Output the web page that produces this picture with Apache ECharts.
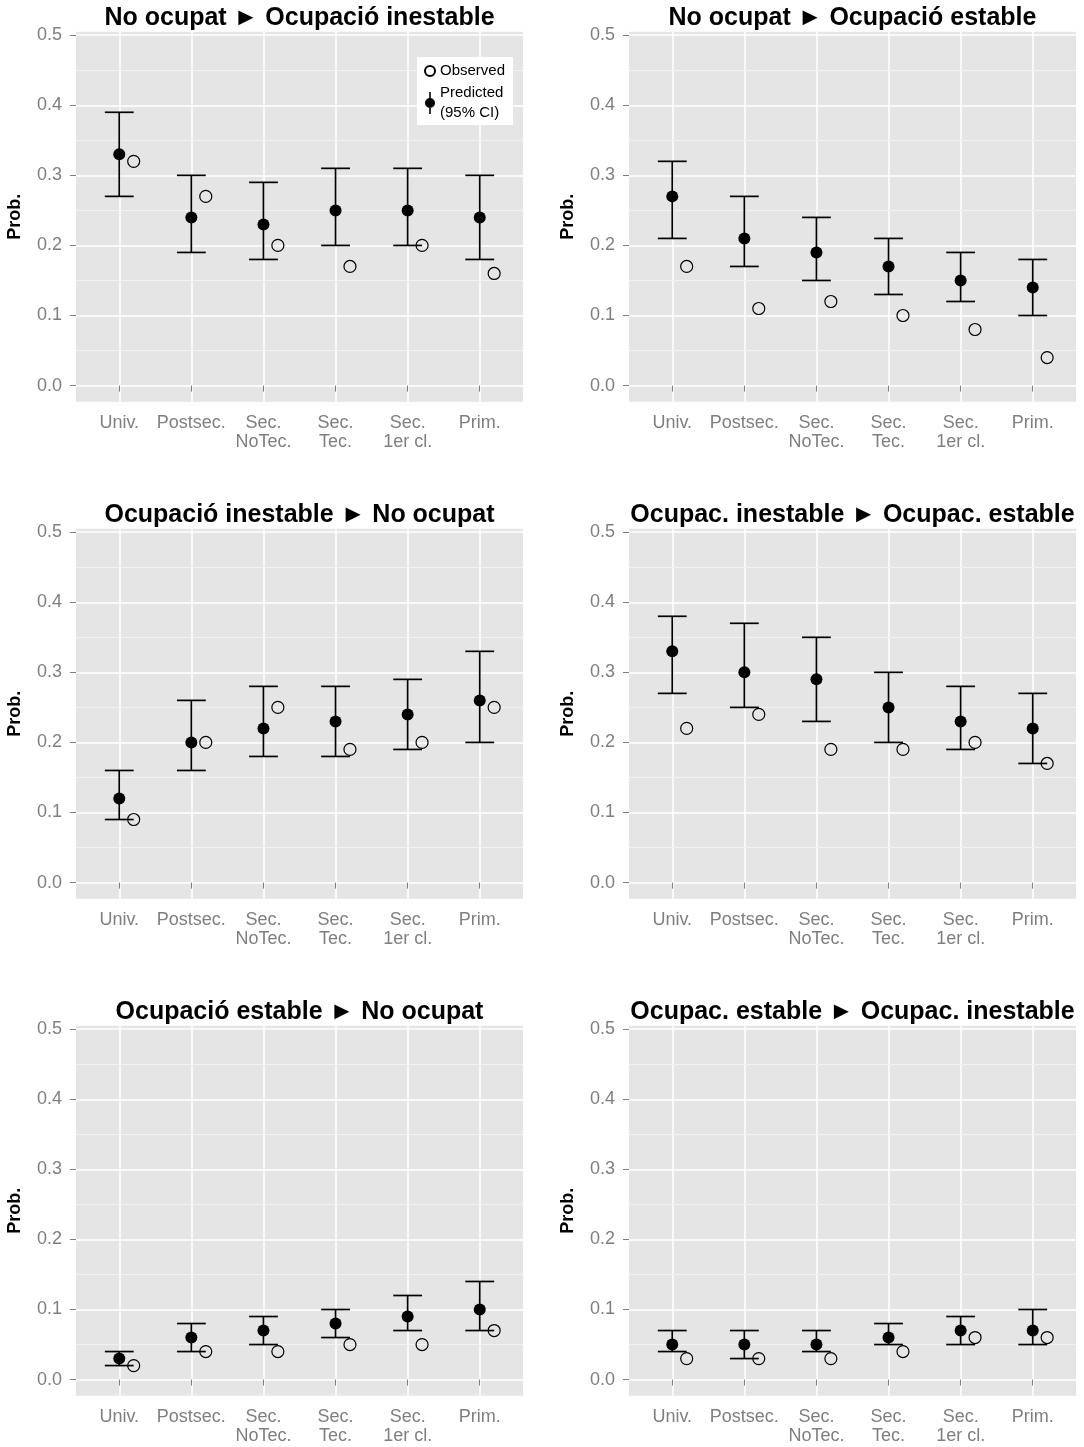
<!DOCTYPE html>
<html><head><meta charset="utf-8">
<script src="https://cdn.jsdelivr.net/npm/echarts@6/dist/echarts.min.js"></script>
<style>html,body{margin:0;padding:0;background:#fff}#c{width:1084px;height:1447px}</style>
</head><body><div id="c"></div>
<script>
// ---------- data ----------
const categories = ['Univ.', 'Postsec.', 'Sec.\nNoTec.', 'Sec.\nTec.', 'Sec.\n1er cl.', 'Prim.'];
const yTicks = [0, 0.1, 0.2, 0.3, 0.4, 0.5];
const yMinorTicks = [0.05, 0.15, 0.25, 0.35, 0.45];
const titles = [
  'No ocupat \u25BA Ocupació inestable',
  'No ocupat \u25BA Ocupació estable',
  'Ocupació inestable \u25BA No ocupat',
  'Ocupac. inestable \u25BA Ocupac. estable',
  'Ocupació estable \u25BA No ocupat',
  'Ocupac. estable \u25BA Ocupac. inestable'
];
// panel 1
const p1Pred = [0.33, 0.24, 0.23, 0.25, 0.25, 0.24];
const p1Low  = [0.27, 0.19, 0.18, 0.20, 0.20, 0.18];
const p1High = [0.39, 0.30, 0.29, 0.31, 0.31, 0.30];
const p1Obs  = [0.32, 0.27, 0.20, 0.17, 0.20, 0.16];
// panel 2
const p2Pred = [0.27, 0.21, 0.19, 0.17, 0.15, 0.14];
const p2Low  = [0.21, 0.17, 0.15, 0.13, 0.12, 0.10];
const p2High = [0.32, 0.27, 0.24, 0.21, 0.19, 0.18];
const p2Obs  = [0.17, 0.11, 0.12, 0.10, 0.08, 0.04];
// panel 3
const p3Pred = [0.12, 0.20, 0.22, 0.23, 0.24, 0.26];
const p3Low  = [0.09, 0.16, 0.18, 0.18, 0.19, 0.20];
const p3High = [0.16, 0.26, 0.28, 0.28, 0.29, 0.33];
const p3Obs  = [0.09, 0.20, 0.25, 0.19, 0.20, 0.25];
// panel 4
const p4Pred = [0.33, 0.30, 0.29, 0.25, 0.23, 0.22];
const p4Low  = [0.27, 0.25, 0.23, 0.20, 0.19, 0.17];
const p4High = [0.38, 0.37, 0.35, 0.30, 0.28, 0.27];
const p4Obs  = [0.22, 0.24, 0.19, 0.19, 0.20, 0.17];
// panel 5
const p5Pred = [0.03, 0.06, 0.07, 0.08, 0.09, 0.10];
const p5Low  = [0.02, 0.04, 0.05, 0.06, 0.07, 0.07];
const p5High = [0.04, 0.08, 0.09, 0.10, 0.12, 0.14];
const p5Obs  = [0.02, 0.04, 0.04, 0.05, 0.05, 0.07];
// panel 6
const p6Pred = [0.05, 0.05, 0.05, 0.06, 0.07, 0.07];
const p6Low  = [0.04, 0.03, 0.04, 0.05, 0.05, 0.05];
const p6High = [0.07, 0.07, 0.07, 0.08, 0.09, 0.10];
const p6Obs  = [0.03, 0.03, 0.03, 0.04, 0.06, 0.06];

// ---------- layout ----------
const panels = [
  {pred: p1Pred, low: p1Low, high: p1High, obs: p1Obs},
  {pred: p2Pred, low: p2Low, high: p2High, obs: p2Obs},
  {pred: p3Pred, low: p3Low, high: p3High, obs: p3Obs},
  {pred: p4Pred, low: p4Low, high: p4High, obs: p4Obs},
  {pred: p5Pred, low: p5Low, high: p5High, obs: p5Obs},
  {pred: p6Pred, low: p6Low, high: p6High, obs: p6Obs}
];
const FONT = "'Liberation Sans', Arial, Helvetica, sans-serif";
const colLeft = [76, 629];
const rowTop = [31.7, 528.7, 1025.7];
const PW = 447, PH = 370;
const catPos = categories.map((c, i) => i + 1);
const DODGE = 0.2, WHISK = 0.2;

const grids = [], xAxes = [], yAxes = [], series = [], titleOpts = [];
panels.forEach((p, i) => {
  const col = i % 2, row = Math.floor(i / 2);
  grids.push({left: colLeft[col], top: rowTop[row], width: PW, height: PH,
    show: true, backgroundColor: '#e5e5e5', borderWidth: 0, containLabel: false});
  xAxes.push({
    type: 'value', gridIndex: i, min: 0.4, max: 6.6,
    axisLine: {show: false},
    axisTick: {show: true, length: 6, customValues: catPos, lineStyle: {color: '#7f7f7f', width: 1}},
    axisLabel: {show: true, customValues: catPos, margin: 12, fontSize: 18, lineHeight: 19,
      color: '#7f7f7f', fontFamily: FONT, formatter: v => categories[Math.round(v) - 1] || ''},
    splitLine: {show: true, lineStyle: {color: '#ffffff', width: 1.5}}
  });
  yAxes.push({
    type: 'value', gridIndex: i, min: -0.023, max: 0.505,
    name: 'Prob.', nameLocation: 'middle', nameRotate: 90, nameGap: 52,
    nameTextStyle: {fontSize: 18, fontWeight: 'bold', color: '#000', fontFamily: FONT},
    axisLine: {show: false},
    axisTick: {show: true, length: 6, customValues: yTicks, lineStyle: {color: '#7f7f7f', width: 1}},
    axisLabel: {show: true, customValues: yTicks, margin: 14, fontSize: 18, color: '#7f7f7f',
      fontFamily: FONT, formatter: v => v.toFixed(1)},
    splitLine: {show: true, lineStyle: {color: '#ffffff', width: 1.5}}
  });
  titleOpts.push({
    text: titles[i], left: colLeft[col] + PW / 2, top: rowTop[row] - 14,
    textAlign: 'center', textVerticalAlign: 'middle', padding: 0,
    textStyle: {fontSize: 25, fontWeight: 'bold', color: '#000', fontFamily: FONT}
  });
  series.push({
    type: 'custom', name: 'ci', xAxisIndex: i, yAxisIndex: i, z: 2,
    data: catPos.map((x, j) => [x, p.low[j], p.high[j]]),
    encode: {x: 0, y: [1, 2]},
    renderItem: (params, api) => {
      const x = api.value(0), lo = api.value(1), hi = api.value(2);
      const a = api.coord([x, lo]), b = api.coord([x, hi]);
      const hw = api.coord([x + WHISK, lo])[0] - a[0];
      const st = {stroke: '#000', lineWidth: 1.7, fill: null};
      return {type: 'group', children: [
        {type: 'line', shape: {x1: a[0], y1: a[1], x2: b[0], y2: b[1]}, style: st},
        {type: 'line', shape: {x1: a[0] - hw, y1: a[1], x2: a[0] + hw, y2: a[1]}, style: st},
        {type: 'line', shape: {x1: b[0] - hw, y1: b[1], x2: b[0] + hw, y2: b[1]}, style: st}
      ]};
    },
    markLine: {silent: true, z: 0, symbol: ['none', 'none'], label: {show: false},
      lineStyle: {color: '#f2f2f2', width: 1, type: 'solid'},
      emphasis: {disabled: true},
      data: yMinorTicks.map(v => ({yAxis: v}))}
  });
  series.push({
    type: 'scatter', name: 'Predicted\n(95% CI)', xAxisIndex: i, yAxisIndex: i, z: 3,
    symbol: 'circle', symbolSize: 12, itemStyle: {color: '#000', opacity: 1},
    data: catPos.map((x, j) => [x, p.pred[j]])
  });
  series.push({
    type: 'scatter', name: 'Observed', xAxisIndex: i, yAxisIndex: i, z: 4,
    symbol: 'circle', symbolSize: 12,
    itemStyle: {color: 'rgba(0,0,0,0)', borderColor: '#000', borderWidth: 1.2, opacity: 1},
    data: catPos.map((x, j) => [x + DODGE, p.obs[j]])
  });
});

const chart = echarts.init(document.getElementById('c'), null, {renderer: 'canvas'});
chart.setOption({
  animation: false,
  backgroundColor: '#ffffff',
  title: titleOpts,
  legend: {
    left: 417, top: 57, orient: 'vertical', backgroundColor: '#ffffff',
    padding: [4, 8, 2, 7], itemGap: 2, itemWidth: 10, itemHeight: 22, selectedMode: false,
    textStyle: {fontSize: 15, color: '#000', lineHeight: 20, fontFamily: FONT},
    data: [
      {name: 'Observed', icon: 'circle'},
      {name: 'Predicted\n(95% CI)', icon: 'path://M4.2,0 L5.8,0 L5.8,6.5 L4.2,6.5 Z M4.2,15.5 L5.8,15.5 L5.8,22 L4.2,22 Z M0,11 A5,5 0 1 1 10,11 A5,5 0 1 1 0,11 Z'}
    ]
  },
  grid: grids, xAxis: xAxes, yAxis: yAxes, series: series
});
</script></body></html>
